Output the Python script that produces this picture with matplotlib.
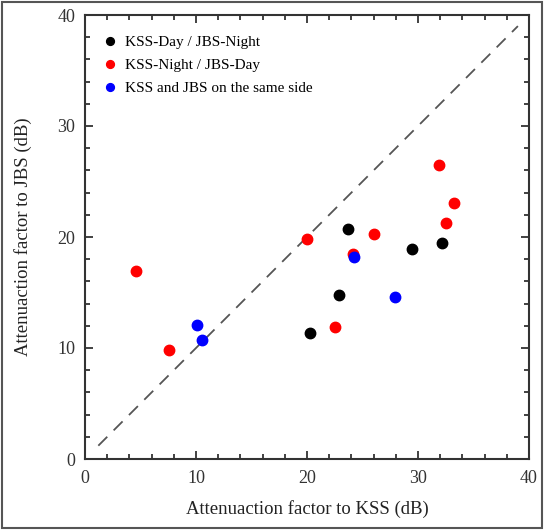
import matplotlib
matplotlib.use("Agg")
import matplotlib.pyplot as plt
from matplotlib.patches import Rectangle
from matplotlib.ticker import MultipleLocator

plt.rcParams['font.family'] = ['Liberation Serif', 'DejaVu Serif']

# KSS-Day / JBS-Night
kss_day = [23.7, 22.9, 20.3, 29.5, 32.2]
jbs_night = [20.75, 14.75, 11.35, 18.9, 19.5]

# KSS-Night / JBS-Day
kss_night = [4.6, 7.6, 20.0, 22.5, 24.1, 26.0, 31.9, 32.55, 33.2]
jbs_day = [16.9, 9.8, 19.8, 11.9, 18.5, 20.3, 26.5, 21.3, 23.1]

# same side
kss_same = [10.1, 10.5, 24.2, 27.9]
jbs_same = [12.1, 10.75, 18.2, 14.6]

fig = plt.figure(figsize=(5.44, 5.30), dpi=100)
ax = fig.add_axes([85/544, 1 - 459/530, 444/544, 444/530])

# outer frame
fig.patches.append(Rectangle((0.004, 0.004), 0.992, 0.992, transform=fig.transFigure,
                             fill=False, edgecolor='#555555', linewidth=1.5))

ax.plot([1.2, 39], [1.2, 39], color='#555555', linewidth=1.3, dashes=(7, 5))

ax.plot(kss_day, jbs_night, 'o', color='black', markersize=7.5, label='KSS-Day / JBS-Night')
ax.plot(kss_night, jbs_day, 'o', color='red', markersize=7.5, label='KSS-Night / JBS-Day')
ax.plot(kss_same, jbs_same, 'o', color='blue', markersize=7.5, label='KSS and JBS on the same side')

ax.set_xlim(0, 40)
ax.set_ylim(0, 40)
ax.xaxis.set_major_locator(MultipleLocator(10))
ax.yaxis.set_major_locator(MultipleLocator(10))
ax.xaxis.set_minor_locator(MultipleLocator(2))
ax.yaxis.set_minor_locator(MultipleLocator(2))
ax.tick_params(which='both', direction='in', top=True, right=True, width=1.3, colors='#333333', labelsize=13)
ax.tick_params(which='major', length=6)
ax.tick_params(axis='x', pad=8)
ax.tick_params(axis='y', pad=7)
ax.tick_params(which='minor', length=3.5)
for s in ax.spines.values():
    s.set_linewidth(1.5)
    s.set_color('#333333')

ax.set_xlabel('Attenuaction factor to KSS (dB)', fontsize=13.5, color='#222222', labelpad=9)
ax.set_ylabel('Attenuaction factor to JBS (dB)', fontsize=13.5, color='#222222', labelpad=18)

ax.legend(loc='upper left', frameon=False, fontsize=11, handletextpad=0.67, handlelength=0.6,
          labelspacing=0.6, borderaxespad=0.95, markerscale=0.75)

fig.savefig('out.png', dpi=100)
